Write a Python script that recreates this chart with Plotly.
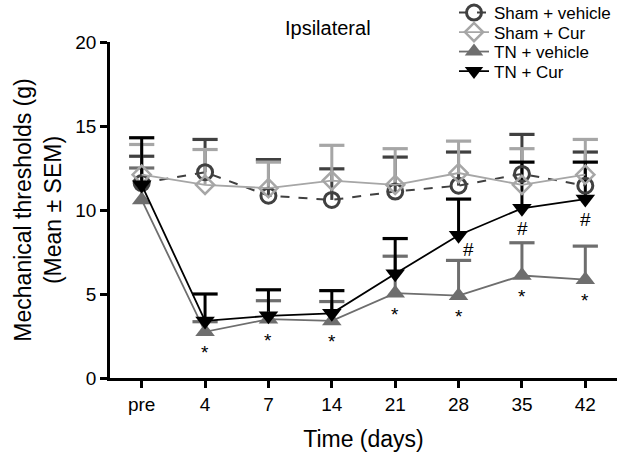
import plotly.graph_objects as go

days = ["pre", "4", "7", "14", "21", "28", "35", "42"]

sham_veh = [11.6, 12.25, 10.85, 10.6, 11.1, 11.45, 12.15, 11.45]
sham_veh_sem = [1.6, 1.95, 2.15, 1.85, 2.05, 2.0, 2.35, 2.0]

sham_cur = [12.1, 11.5, 11.3, 11.75, 11.5, 12.2, 11.5, 12.1]
sham_cur_sem = [1.8, 2.1, 1.55, 2.1, 2.15, 1.9, 2.15, 2.1]

tn_veh = [10.6, 2.75, 3.5, 3.4, 5.05, 4.9, 6.1, 5.85]
tn_veh_sem = [1.9, 0.6, 1.1, 1.15, 2.2, 2.1, 1.95, 2.0]

tn_cur = [11.5, 3.4, 3.7, 3.85, 6.2, 8.5, 10.1, 10.65]
tn_cur_sem = [2.8, 1.6, 1.55, 1.35, 2.1, 2.15, 2.75, 2.2]

star_days = ["4", "7", "14", "21", "28", "35", "42"]
hash_days = ["28", "35", "42"]

series = [
    dict(name="Sham + vehicle", y=sham_veh, e=sham_veh_sem, color="#404040",
         symbol="circle-open", size=15, mlw=3, dash="dash", lw=2),
    dict(name="Sham + Cur", y=sham_cur, e=sham_cur_sem, color="#a6a6a6",
         symbol="diamond-open", size=14, mlw=2.5, dash="solid", lw=1.8),
    dict(name="TN + vehicle", y=tn_veh, e=tn_veh_sem, color="#6e6e6e",
         symbol="triangle-up", size=17, mlw=0, dash="solid", lw=1.8),
    dict(name="TN + Cur", y=tn_cur, e=tn_cur_sem, color="#000000",
         symbol="triangle-down", size=17, mlw=0, dash="solid", lw=1.8),
]

# figure geometry (pixels)
W, H = 641, 468
L, R, T, B = 110, 24, 42, 90
paper_w = W - L          # right margin 0, use domain
paper_h = H - B          # top margin 0, use domain
def px_x(px):
    return (px - L) / paper_w
def px_y(py):
    return (H - B - py) / paper_h

fig = go.Figure()

# error bars (upper only): stems + caps
for s in series:
    sx, sy = [], []
    for d, m, e in zip(days, s["y"], s["e"]):
        sx += [d, d, None]
        sy += [m, m + e, None]
    fig.add_trace(go.Scatter(x=sx, y=sy, mode="lines", showlegend=False,
                             line=dict(color=s["color"], width=3), hoverinfo="skip"))
    fig.add_trace(go.Scatter(x=days, y=[m + e for m, e in zip(s["y"], s["e"])],
                             mode="markers", showlegend=False, hoverinfo="skip",
                             marker=dict(symbol="line-ew", size=18,
                                         line=dict(color=s["color"], width=3.2))))

legend_rows_px = [13, 32.5, 52, 71.5]
for i, s in enumerate(series):
    lg = "legend" if i == 0 else f"legend{i+1}"
    fig.add_trace(go.Scatter(
        x=days, y=s["y"], mode="lines+markers", name=s["name"], legend=lg,
        line=dict(color=s["color"], width=s["lw"], dash=s["dash"]),
        marker=dict(symbol=s["symbol"], size=s["size"], color=s["color"],
                    line=dict(color=s["color"], width=s["mlw"]))))

font_family = "Liberation Sans, Arial, sans-serif"

annotations = []
for d in star_days:
    i = days.index(d)
    annotations.append(dict(x=i, y=tn_veh[i], text="*", showarrow=False, yshift=-21,
                            font=dict(size=19, color="black", family=font_family)))
hash_shift = {"28": (10, -14), "35": (1, -20), "42": (0, -20)}
for d in hash_days:
    i = days.index(d)
    xs, ys = hash_shift[d]
    annotations.append(dict(x=i, y=tn_cur[i], text="#", showarrow=False, xshift=xs, yshift=ys,
                            font=dict(size=19, color="black", family=font_family)))
annotations.append(dict(x=px_x(328), y=px_y(28), xref="paper", yref="paper", text="Ipsilateral",
                        xanchor="center", yanchor="middle",
                        showarrow=False, font=dict(size=20, color="black", family=font_family)))

layout_legends = {}
for i, py in enumerate(legend_rows_px):
    key = "legend" if i == 0 else f"legend{i+1}"
    layout_legends[key] = dict(x=px_x(454), y=px_y(py), xanchor="left", yanchor="middle",
                               bgcolor="rgba(0,0,0,0)",
                               font=dict(size=17, color="black", family=font_family),
                               itemwidth=30)

fig.update_layout(
    template="none",
    width=W, height=H,
    margin=dict(l=L, r=0, t=0, b=B, autoexpand=False),
    paper_bgcolor="white", plot_bgcolor="white",
    font=dict(family=font_family, size=19, color="black"),
    annotations=annotations,
    **layout_legends,
)
fig.update_xaxes(type="category", range=[-0.5, 7.5],
                 domain=[0, (W - R - L) / paper_w], automargin=False,
                 showline=True, linewidth=2.5,
                 linecolor="black", ticks="outside", ticklen=7, tickwidth=2.5,
                 tickcolor="black", showgrid=False, zeroline=False,
                 title=dict(text="Time (days)", standoff=18),
                 tickfont=dict(size=19))
fig.update_yaxes(range=[0, 20], tickvals=[0, 5, 10, 15, 20],
                 domain=[0, (H - B - T) / paper_h], automargin=False,
                 showline=True,
                 linewidth=2.5, linecolor="black", ticks="outside", ticklen=7,
                 tickwidth=2.5, tickcolor="black", showgrid=False, zeroline=False,
                 title=dict(text="Mechanical thresholds (g)<br>(Mean ± SEM)", standoff=8),
                 tickfont=dict(size=19))

fig.write_html("out.html", config={"displayModeBar": False},
               post_script="document.body.style.margin='0';")
